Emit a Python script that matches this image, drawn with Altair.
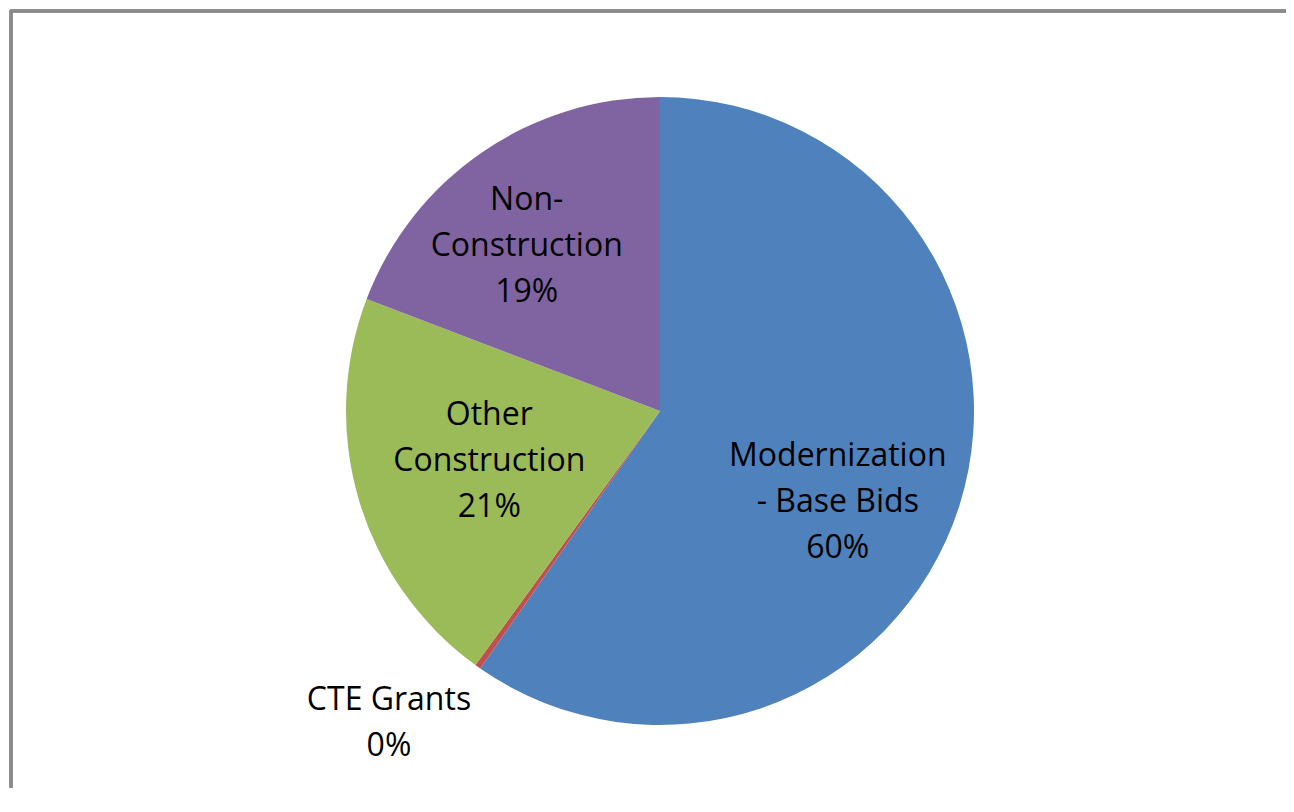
import altair as alt
import pandas as pd

categories = ["Modernization - Base Bids", "CTE Grants", "Other Construction", "Non-Construction"]
values = [59.7, 0.3, 20.8, 19.2]
label_lines = ["Modernization\n- Base Bids", "CTE Grants", "Other\nConstruction", "Non-\nConstruction"]
colors = ["#4F81BD", "#C0504D", "#9BBB59", "#8064A2"]

df = pd.DataFrame({
    "category": categories,
    "value": values,
    "idx": list(range(len(categories))),
    "label": [f"{l}\n{round(v)}%" for l, v in zip(label_lines, values)],
})

W, H = 1278, 780
CX, CY, R = 650, 401, 314
total = sum(values)
LH = 46

base = alt.Chart(df)

pie = base.mark_arc(radius=R).encode(
    theta=alt.Theta("value:Q", stack=True, scale=alt.Scale(domain=[0, total])),
    color=alt.Color("category:N", scale=alt.Scale(domain=categories, range=colors), legend=None),
    order=alt.Order("idx:Q"),
    x=alt.value(CX),
    y=alt.value(CY),
)

text_base = base.transform_window(
    cum="sum(value)", sort=[alt.SortField("idx")], frame=[None, 0]
).transform_calculate(mid="datum.cum - datum.value / 2")

label_style = {
    "Modernization - Base Bids": dict(radius=200, dx=-13, dy=31 - LH),
    "CTE Grants": dict(radius=412, dx=-32, dy=-24 - LH / 2),
    "Other Construction": dict(radius=176, dx=-2, dy=-LH),
    "Non-Construction": dict(radius=212, dx=-13, dy=10 - LH),
}

layers = [pie]
for cat in categories:
    st = label_style[cat]
    layers.append(
        text_base.transform_filter(alt.datum.category == cat).mark_text(
            radius=st["radius"], dx=st["dx"], dy=st["dy"],
            font="Open Sans", fontSize=32, lineHeight=LH, color="#000000",
            align="center", baseline="middle", lineBreak="\n",
        ).encode(
            theta=alt.Theta("mid:Q", stack=None, scale=alt.Scale(domain=[0, total])),
            text="label:N",
            x=alt.value(CX),
            y=alt.value(CY),
        )
    )

border_top = base.mark_rule(color="#8a8a8a", strokeWidth=3).encode(
    x=alt.value(0), x2=alt.value(W + 40), y=alt.value(1)
)
border_left = base.mark_rule(color="#8a8a8a", strokeWidth=3).encode(
    x=alt.value(1), y=alt.value(0), y2=alt.value(H + 40)
)
layers += [border_top, border_left]

chart = alt.layer(*layers).resolve_scale(theta="independent").properties(
    width=W, height=H, padding=0, background="white",
    view=alt.ViewBackground(stroke="transparent", strokeWidth=0),
    autosize=alt.AutoSizeParams(type="fit", contains="padding"),
).configure_view(stroke="transparent", strokeWidth=0)

chart.save("out.html", embed_options={"renderer": "svg", "actions": False})
